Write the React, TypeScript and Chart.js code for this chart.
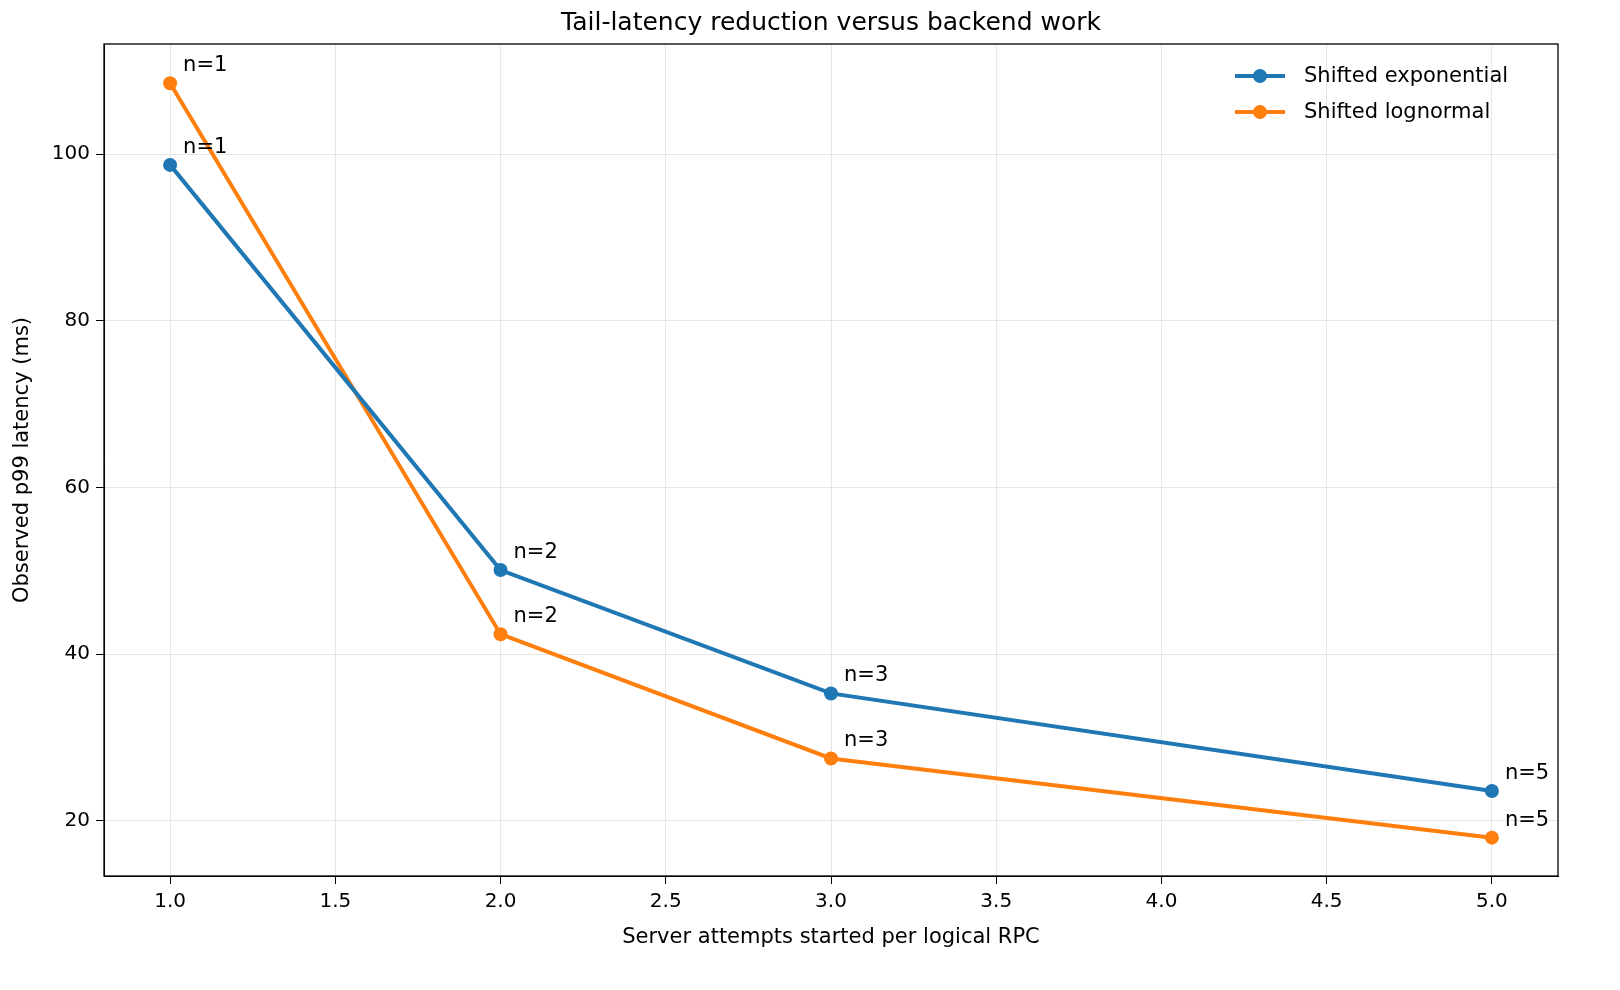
import React, { useEffect, useRef } from "react";
import { Chart, registerables } from "chart.js";
Chart.register(...registerables);

const attempts = [1, 2, 3, 5];
const expValues = [98.7, 50.1, 35.3, 23.6];
const lognValues = [108.5, 42.4, 27.5, 18.0];
const pointLabels = ["n=1", "n=2", "n=3", "n=5"];
const xTicks = [1, 1.5, 2, 2.5, 3, 3.5, 4, 4.5, 5];
const yTicks = [20, 40, 60, 80, 100];
const seriesNames = ["Shifted exponential", "Shifted lognormal"];
const colors = ["#1f77b4", "#ff7f0e"];

const FONT = "'DejaVu Sans', sans-serif";

const extras = {
  id: "extras",
  afterDatasetsDraw(chart: any) {
    const ctx = chart.ctx;
    const a = chart.chartArea;
    ctx.save();
    ctx.font = `21px ${FONT}`;
    ctx.fillStyle = "#000";
    ctx.textBaseline = "alphabetic";
    chart.data.datasets.forEach((ds: any, di: number) => {
      const meta = chart.getDatasetMeta(di);
      meta.data.forEach((p: any, i: number) => {
        ctx.fillText(pointLabels[i], p.x + 13, p.y - 12);
      });
    });
    ctx.strokeStyle = "#000";
    ctx.lineWidth = 1.3;
    ctx.strokeRect(a.left, a.top, a.right - a.left, a.bottom - a.top);
    ctx.font = `25px ${FONT}`;
    ctx.textAlign = "center";
    ctx.fillText("Tail-latency reduction versus backend work", (a.left + a.right) / 2, a.top - 14);
    ctx.textAlign = "left";
    ctx.textBaseline = "middle";
    ctx.font = `21px ${FONT}`;
    seriesNames.forEach((n, i) => {
      const y = 76 + i * 36;
      ctx.strokeStyle = colors[i];
      ctx.lineWidth = 4;
      ctx.beginPath();
      ctx.moveTo(1235, y);
      ctx.lineTo(1285, y);
      ctx.stroke();
      ctx.fillStyle = colors[i];
      ctx.beginPath();
      ctx.arc(1260, y, 7, 0, Math.PI * 2);
      ctx.fill();
      ctx.fillStyle = "#000";
      ctx.fillText(n, 1304, y + 1);
    });
    ctx.restore();
  },
};

export default function App() {
  const ref = useRef<HTMLCanvasElement>(null);
  useEffect(() => {
    const mk = (vals: number[], i: number) => ({
      label: seriesNames[i],
      data: attempts.map((x, k) => ({ x, y: vals[k] })),
      borderColor: colors[i],
      backgroundColor: colors[i],
      borderWidth: 4,
      pointRadius: 7,
      pointBorderWidth: 0,
      showLine: true,
    });
    const chart = new Chart(ref.current!, {
      type: "scatter",
      data: { datasets: [mk(expValues, 0), mk(lognValues, 1)] },
      options: {
        animation: false,
        responsive: false,
        layout: { padding: { top: 44, right: 62, left: 6, bottom: 36 } },
        plugins: { legend: { display: false }, tooltip: { enabled: false } },
        scales: {
          x: {
            type: "linear",
            min: 0.8,
            max: 5.2,
            afterBuildTicks: (s: any) => { s.ticks = xTicks.map((v) => ({ value: v })); },
            afterFit: (s: any) => { s.height = 78; },
            ticks: { font: { family: FONT, size: 20 }, color: "#000", padding: 6, callback: (v: any) => Number(v).toFixed(1), maxRotation: 0 },
            grid: { color: "#e6e6e6", tickColor: "#000", tickLength: 8 },
            border: { color: "#000" },
            title: { display: true, text: "Server attempts started per logical RPC", font: { family: FONT, size: 21 }, color: "#000" },
          },
          y: {
            min: 13.4,
            max: 113.2,
            afterBuildTicks: (s: any) => { s.ticks = yTicks.map((v) => ({ value: v })); },
            afterFit: (s: any) => { s.width = 98; },
            ticks: { font: { family: FONT, size: 20 }, color: "#000", padding: 6 },
            grid: { color: "#e6e6e6", tickColor: "#000", tickLength: 8 },
            border: { color: "#000" },
            title: { display: true, text: "Observed p99 latency (ms)", font: { family: FONT, size: 21 }, color: "#000" },
          },
        },
      },
      plugins: [extras],
    });
    return () => chart.destroy();
  }, []);
  return (
    <div style={{ position: "fixed", left: 0, top: 0, width: 1620, height: 990, background: "#fff" }}>
      <canvas ref={ref} width={1620} height={990} style={{ width: 1620, height: 990, display: "block" }} />
    </div>
  );
}
